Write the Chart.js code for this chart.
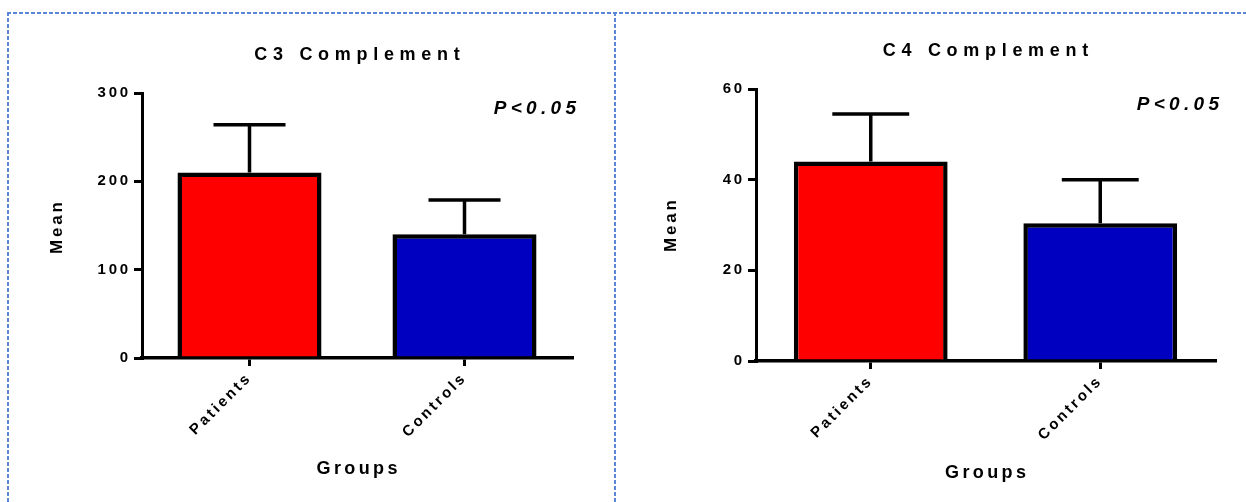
<!DOCTYPE html>
<html>
<head>
<meta charset="utf-8">
<script src="https://cdn.jsdelivr.net/npm/chart.js@4.4.0/dist/chart.umd.min.js"></script>
<style>
  body { margin: 0; background: #fff; width: 1246px; height: 502px; overflow: hidden; position: relative; }
  .h, .v { position: absolute; }
  .h { height: 2px; background: repeating-linear-gradient(90deg, #5a88d6 0 4px, transparent 4px 6px); }
  .v { width: 2px; background: repeating-linear-gradient(180deg, #5a88d6 0 4px, transparent 4px 6px); }
  canvas { position: absolute; top: 0; }
  #c3 { left: 0; }
  #c4 { left: 615px; }
</style>
</head>
<body>
<div class="h" style="left:7px; top:12px; width:1239px;"></div>
<div class="v" style="left:7px; top:12px; height:490px;"></div>
<div class="v" style="left:614px; top:12px; height:490px;"></div>
<canvas id="c3" width="615" height="502"></canvas>
<canvas id="c4" width="631" height="502"></canvas>
<script>
/* ---- data ---- */
const groups = ['Patients', 'Controls'];
const c3Mean = [210, 140];
const c3Sd = [54, 39];
const c3Ticks = [0, 100, 200, 300];
const c4Mean = [44, 30.4];
const c4Sd = [10.5, 9.6];
const c4Ticks = [0, 20, 40, 60];

const barColors = ['#ff0000', '#0000c0'];
const FONT = '"Liberation Sans", Arial, sans-serif';

function spacedText(ctx, text, x, y, size, spacing, align, style) {
    ctx.save();
    ctx.font = (style || 'bold') + ' ' + size + 'px ' + FONT;
    ctx.letterSpacing = spacing + 'px';
    ctx.fillStyle = '#000';
    ctx.textBaseline = 'middle';
    ctx.textAlign = align;
    // trailing letter spacing shifts the text; correct for it
    let dx = 0;
    if (align === 'center') dx = spacing / 2;
    if (align === 'right') dx = spacing;
    ctx.fillText(text, x + dx, y);
    ctx.restore();
}

// error bars (mean + SD, upper only) and the chart texts
const extras = {
    id: 'extras',
    beforeDraw(chart) {
        chart.ctx.letterSpacing = '2.8px';
    },
    afterDatasetsDraw(chart, args, opts) {
        const ctx = chart.ctx;
        const y = chart.scales.y;
        const meta = chart.getDatasetMeta(0);
        ctx.save();
        ctx.strokeStyle = '#000';
        ctx.lineWidth = 3.5;
        meta.data.forEach((bar, i) => {
            const top = y.getPixelForValue(opts.mean[i] + opts.sd[i]);
            const half = bar.width * 0.25;
            ctx.beginPath();
            ctx.moveTo(bar.x, bar.y);
            ctx.lineTo(bar.x, top);
            ctx.moveTo(bar.x - half, top);
            ctx.lineTo(bar.x + half, top);
            ctx.stroke();
        });
        ctx.restore();
    },
    afterDraw(chart, args, opts) {
        const ctx = chart.ctx;
        const a = chart.chartArea;
        const cx = (a.left + a.right) / 2;
        spacedText(ctx, opts.title, cx, opts.titleY, 18, 5.7, 'center');
        spacedText(ctx, 'P<0.05', a.right + 4, opts.pY, 19, 4.3, 'right', 'italic bold');
        spacedText(ctx, 'Groups', cx, opts.groupsY, 18, 3.4, 'center');
        ctx.save();
        ctx.translate(a.left - 85, opts.meanY);
        ctx.rotate(-Math.PI / 2);
        spacedText(ctx, 'Mean', 0, 0, 17, 2.8, 'center');
        ctx.restore();
    }
};

function makeChart(id, mean, sd, ticks, layout, text) {
    const yMax = ticks[ticks.length - 1];
    return new Chart(document.getElementById(id), {
        type: 'bar',
        data: {
            labels: groups,
            datasets: [{
                data: mean,
                backgroundColor: barColors,
                borderColor: '#000',
                borderWidth: 4.5,
                borderSkipped: 'bottom',
                barPercentage: 0.67,
                categoryPercentage: 1
            }]
        },
        plugins: [extras],
        options: {
            responsive: false,
            animation: false,
            layout: { padding: { top: layout.top, right: layout.right, left: 0, bottom: 0 } },
            plugins: {
                legend: { display: false },
                tooltip: { enabled: false },
                extras: Object.assign({ mean: mean, sd: sd }, text)
            },
            scales: {
                x: {
                    z: 1,
                    afterFit(s) { s.height = layout.xh; },
                    grid: { offset: false, drawOnChartArea: false, color: '#000', lineWidth: 3, tickLength: 8 },
                    border: { color: '#000', width: 3.5 },
                    ticks: {
                        color: '#000', padding: 3, minRotation: 45, maxRotation: 45,
                        font: { family: FONT, size: 15, weight: 'bold' }
                    }
                },
                y: {
                    min: 0,
                    max: yMax,
                    afterFit(s) { s.width = layout.yw; },
                    afterBuildTicks(s) { s.ticks = ticks.map(v => ({ value: v })); },
                    grid: { drawOnChartArea: false, color: '#000', lineWidth: 3, tickLength: 8 },
                    border: { color: '#000', width: 3 },
                    ticks: {
                        color: '#000', padding: 3,
                        font: { family: FONT, size: 15, weight: 'bold' }
                    }
                }
            }
        }
    });
}

makeChart('c3', c3Mean, c3Sd, c3Ticks,
    { top: 93, right: 43, xh: 144, yw: 142 },
    { title: 'C3 Complement', titleY: 55, pY: 109, groupsY: 469, meanY: 228 });

makeChart('c4', c4Mean, c4Sd, c4Ticks,
    { top: 89, right: 31, xh: 141, yw: 141 },
    { title: 'C4 Complement', titleY: 51, pY: 105, groupsY: 473, meanY: 226 });
</script>
</body>
</html>
